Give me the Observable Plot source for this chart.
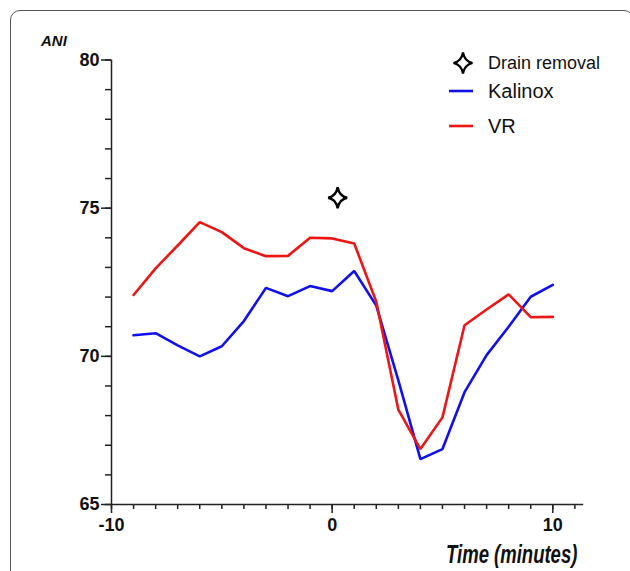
<!DOCTYPE html>
<html>
<head>
<meta charset="utf-8">
<script src="https://cdn.jsdelivr.net/npm/d3@7"></script>
<script src="https://cdn.jsdelivr.net/npm/@observablehq/plot@0.6"></script>
<style>
  html, body { margin: 0; padding: 0; background: #fff; }
  #wrap { position: relative; width: 630px; height: 571px; overflow: hidden; font-family: "Liberation Sans", Arial, sans-serif; }
  #frame { position: absolute; left: 10px; top: 10px; width: 624px; height: 620px; border: 1.5px solid #555; border-radius: 10px; box-sizing: border-box; }
  #chart { position: absolute; left: 0; top: 0; }
  .lbl { position: absolute; white-space: nowrap; color: #111; }
  #ytitle { left: 41px; top: 33px; font-size: 15px; line-height: 15px; font-weight: bold; font-style: italic; }
  #xtitle { right: 53px; top: 542px; font-size: 25px; line-height: 25px; font-weight: bold; font-style: italic; transform: scaleX(0.74); transform-origin: right center; }
  .leg { position: absolute; left: 445px; height: 24px; display: flex; align-items: center; color: #111; }
  .leg .key { width: 30px; height: 24px; position: relative; margin-right: 13px; }
  .leg .key svg { position: absolute; left: 0; top: 0; }
</style>
</head>
<body>
<div id="wrap">
  <div id="frame"></div>
  <div id="chart"></div>
  <div class="lbl" id="ytitle">ANI</div>
  <div class="lbl" id="xtitle">Time (minutes)</div>
  <div id="legend"></div>
</div>
<script>
// ---- data ----
const minutes = [-9, -8, -7, -6, -5, -4, -3, -2, -1, 0, 1, 2, 3, 4, 5, 6, 7, 8, 9, 10];
const kalinox = [70.71, 70.78, 70.37, 70.0, 70.34, 71.19, 72.31, 72.03, 72.37, 72.2, 72.88, 71.71, 69.19, 66.53, 66.87, 68.79, 70.04, 71.0, 72.01, 72.41];
const vr      = [72.07, 72.97, 73.74, 74.53, 74.19, 73.65, 73.38, 73.39, 74.0, 73.98, 73.81, 71.84, 68.2, 66.87, 67.94, 71.05, 71.58, 72.09, 71.32, 71.33];
const drainRemoval = [{ time: 0.25, ani: 75.35 }];
const xMajorTicks = [-10, 0, 10];
const xMinorTicks = d3.range(-10, 12);
const yMajorTicks = [65, 70, 75, 80];
const yMinorTicks = d3.range(65, 81);
const xDomain = [-10, 10];
const yDomain = [65, 80];
const xAxisEnd = 11.4;
const seriesNames = ["Kalinox", "VR"];
const seriesColors = ["#1010ee", "#ee1515"];

const rows = [];
minutes.forEach((t, i) => {
  rows.push({ series: "Kalinox", time: t, ani: kalinox[i] });
  rows.push({ series: "VR", time: t, ani: vr[i] });
});

// four-pointed star with concave sides
const starSymbol = {
  draw(ctx) {
    const ry = 10.5, rx = 9.5, c = 1.6;
    ctx.moveTo(0, -ry);
    ctx.quadraticCurveTo(c, -c, rx, 0);
    ctx.quadraticCurveTo(c, c, 0, ry);
    ctx.quadraticCurveTo(-c, c, -rx, 0);
    ctx.quadraticCurveTo(-c, -c, 0, -ry);
    ctx.closePath();
  }
};

const axisColor = "#222";
const tickFont = { fontSize: 18, fontWeight: "bold", fill: "#111" };
const axisBase = { stroke: axisColor, strokeWidth: 1.5, strokeOpacity: 1, label: null };

const plot = Plot.plot({
  width: 630,
  height: 571,
  marginLeft: 111,
  marginRight: 77.7,
  marginTop: 59.5,
  marginBottom: 67,
  style: { fontFamily: "'Liberation Sans', Arial, sans-serif", background: "transparent", overflow: "visible" },
  x: { domain: xDomain, label: null },
  y: { domain: yDomain, label: null },
  color: { domain: seriesNames, range: seriesColors },
  marks: [
    Plot.axisX(xMinorTicks, { ...axisBase, tickSize: 5, tickFormat: () => "" }),
    Plot.axisX(xMajorTicks, { ...axisBase, tickSize: 9, tickPadding: 5, tickFormat: d => String(d), ...tickFont }),
    Plot.axisY(yMinorTicks, { ...axisBase, tickSize: 6, tickFormat: () => "" }),
    Plot.axisY(yMajorTicks, { ...axisBase, tickSize: 10, tickPadding: 2, tickFormat: d => String(d), ...tickFont }),
    Plot.ruleY([yDomain[0]], { x1: xDomain[0], x2: xAxisEnd, stroke: axisColor, strokeWidth: 1.5 }),
    Plot.ruleX([xDomain[0]], { y1: yDomain[0], y2: yDomain[1], stroke: axisColor, strokeWidth: 1.5 }),
    Plot.line(rows, { x: "time", y: "ani", z: "series", stroke: "series", strokeWidth: 2.6, strokeLinejoin: "miter" }),
    Plot.dot(drainRemoval, { x: "time", y: "ani", symbol: starSymbol, r: 10, stroke: "#000", strokeWidth: 2.4, fill: "#fff" })
  ]
});
document.getElementById("chart").appendChild(plot);

// ---- legend ----
const legend = document.getElementById("legend");
const starPath = "M0,-10.5 Q1.6,-1.6 9.5,0 Q1.6,1.6 0,10.5 Q-1.6,1.6 -9.5,0 Q-1.6,-1.6 0,-10.5 Z";
const legendItems = [
  { label: "Drain removal", kind: "star", top: 51, size: 18 },
  { label: seriesNames[0], kind: "line", color: seriesColors[0], top: 79, size: 20 },
  { label: seriesNames[1], kind: "line", color: seriesColors[1], top: 114, size: 20 }
];
legendItems.forEach(it => {
  const row = document.createElement("div");
  row.className = "leg";
  row.style.top = it.top + "px";
  row.style.fontSize = it.size + "px";
  const key = document.createElement("div");
  key.className = "key";
  if (it.kind === "star") {
    key.innerHTML = `<svg width="40" height="24"><path d="${starPath}" transform="translate(18,12)" fill="#fff" stroke="#000" stroke-width="2.2"/></svg>`;
  } else {
    key.innerHTML = `<svg width="40" height="24"><line x1="4" x2="28" y1="12" y2="12" stroke="${it.color}" stroke-width="2.6"/></svg>`;
  }
  row.appendChild(key);
  const t = document.createElement("span");
  t.textContent = it.label;
  row.appendChild(t);
  legend.appendChild(row);
});
</script>
</body>
</html>
